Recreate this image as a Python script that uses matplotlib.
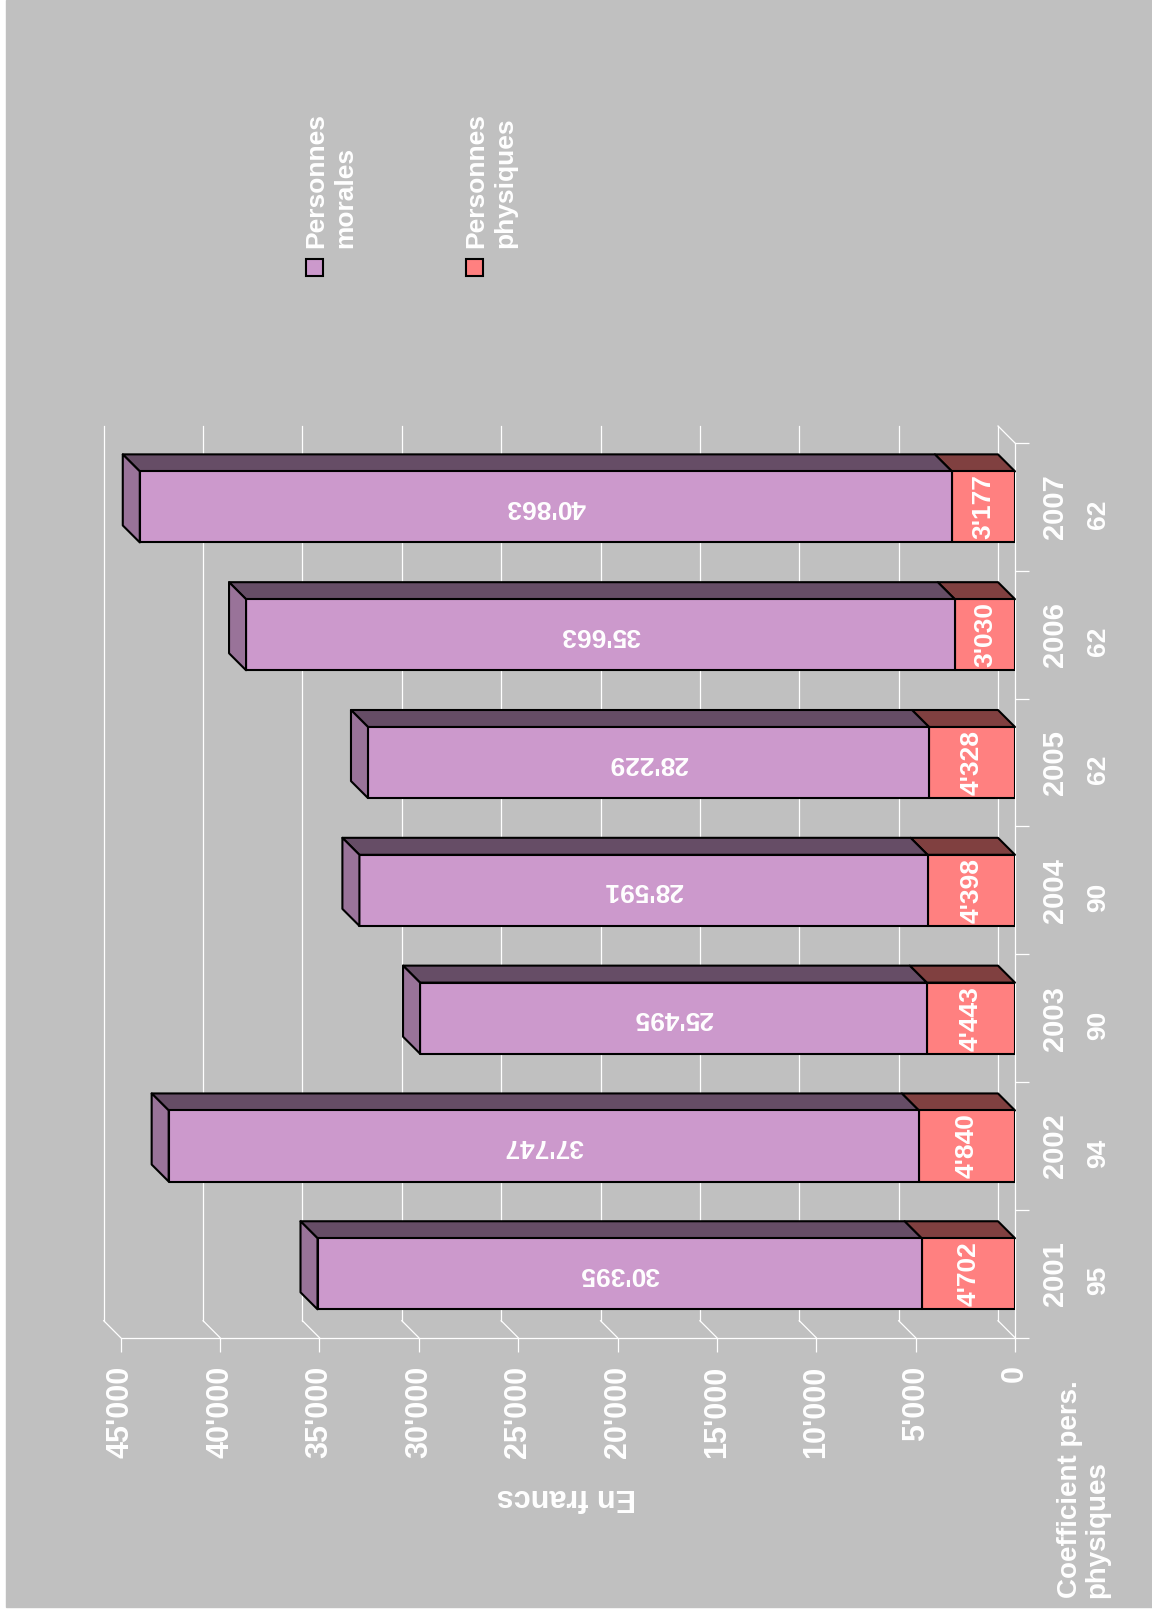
import matplotlib.pyplot as plt
from matplotlib.patches import Polygon, Rectangle

years = ['2001', '2002', '2003', '2004', '2005', '2006', '2007']
coef = ['95', '94', '90', '90', '62', '62', '62']
physiques = [4702, 4840, 4443, 4398, 4328, 3030, 3177]
morales = [30395, 37747, 25495, 28591, 28229, 35663, 40863]
vticks = list(range(0, 45001, 5000))


def fmt(v):
    return f"{v:,}".replace(",", "'")


W, H = 1152, 1612
plt.rcParams['font.family'] = ['Liberation Sans', 'DejaVu Sans']
plt.rcParams['font.weight'] = 'bold'

fig = plt.figure(figsize=(W / 100, H / 100), dpi=100, facecolor='white')
fig.patches.append(Rectangle((6 / W, 5 / H), 1 - 6 / W, 1 - 5 / H,
                             transform=fig.transFigure, color='#c0c0c0',
                             zorder=-10))

# plot area in pixels (front planes)
ax_l, ax_r, ax_t, ax_b = 120.7, 1015, 443, 1337.7
ax = fig.add_axes([ax_l / W, 1 - ax_b / H, (ax_r - ax_l) / W, (ax_b - ax_t) / H])
ax.set_xlim(45000, 0)
ax.set_ylim(-0.5, 6.5)
ax.patch.set_visible(False)

depth = 17
DX = depth * 45000 / (ax_r - ax_l)
DY = depth * 7 / (ax_b - ax_t)

grid_kw = dict(color='white', lw=0.9, clip_on=False, zorder=1)
for v in vticks:
    ax.plot([v + DX, v + DX], [-0.5 + DY, 6.5 + DY], **grid_kw)
    ax.plot([v + DX, v], [-0.5 + DY, -0.5], **grid_kw)
ax.plot([DX, 0], [6.5 + DY, 6.5], **grid_kw)

for s in ['top', 'left']:
    ax.spines[s].set_visible(False)
for s in ['bottom', 'right']:
    ax.spines[s].set_color('white')
    ax.spines[s].set_linewidth(0.9)

ax.set_xticks(vticks)
ax.set_xticklabels([fmt(v) for v in vticks])
ax.tick_params(axis='x', colors='white', length=10, width=0.9, pad=10,
               labelsize=22, labelrotation=90)
ax.yaxis.tick_right()
ax.set_yticks([k - 0.5 for k in range(8)])
ax.set_yticklabels([])
ax.tick_params(axis='y', colors='white', length=10, width=0.9)

colors = [('#ff8080', '#804040', '#bf6060'),
          ('#cc99cc', '#664d66', '#997399')]
hw = 0.278
edge = dict(ec='black', lw=1.5, joinstyle='round', zorder=3)
for i in range(len(years)):
    segs = [(0, physiques[i]), (physiques[i], physiques[i] + morales[i])]
    yt, yb = i + hw, i - hw
    for j, (v0, v1) in enumerate(segs):
        cf, ct, cs = colors[j]
        ax.add_patch(Polygon([(v0, yt), (v1, yt), (v1 + DX, yt + DY),
                              (v0 + DX, yt + DY)], fc=ct, clip_on=False, **edge))
        ax.add_patch(Rectangle((v0, yb), v1 - v0, 2 * hw, fc=cf, **edge))
        if j == 1:
            ax.add_patch(Polygon([(v1, yt), (v1, yb), (v1 + DX, yb + DY),
                                  (v1 + DX, yt + DY)], fc=cs, clip_on=False,
                                 **edge))
    ax.text(physiques[i] / 2, i, fmt(physiques[i]), rotation=90,
            rotation_mode='anchor', ha='center', va='center', color='white',
            fontsize=19, zorder=5)
    ax.text(physiques[i] + morales[i] / 2, i, fmt(morales[i]), rotation=180,
            rotation_mode='anchor', ha='center', va='center', color='white',
            fontsize=19, zorder=5)
    ax.annotate(years[i], xy=(1, i), xycoords=('axes fraction', 'data'),
                xytext=(40 * 0.72, 0), textcoords='offset points',
                rotation=90, ha='center', va='center', fontsize=21,
                color='white')
    ax.annotate(coef[i], xy=(1, i), xycoords=('axes fraction', 'data'),
                xytext=(83 * 0.72, -7 * 0.72), textcoords='offset points',
                rotation=90, ha='center', va='center', fontsize=19,
                color='white')

fig.text(566 / W, 1 - 1497 / H, 'En francs', rotation=180, ha='center',
         va='center', fontsize=22, color='white')
fig.text(1057 / W, 1 - 1598 / H, 'Coefficient pers.\nphysiques', rotation=90,
         ha='left', va='bottom', multialignment='left', linespacing=1.05,
         fontsize=20, color='white')

# legend
for x0, c, lab in [(306, '#cc99cc', 'Personnes\nmorales'),
                   (466, '#ff8080', 'Personnes\nphysiques')]:
    fig.patches.append(Rectangle((x0 / W, 1 - 276 / H), 17 / W, 17 / H,
                                 transform=fig.transFigure, fc=c, ec='black',
                                 lw=1.5))
    fig.text((x0 - 2) / W, 1 - 248 / H, lab, rotation=90, ha='left',
             va='bottom', multialignment='left', linespacing=1.3,
             fontsize=19, color='white')

fig.savefig('out.png', dpi=100, facecolor='white')
